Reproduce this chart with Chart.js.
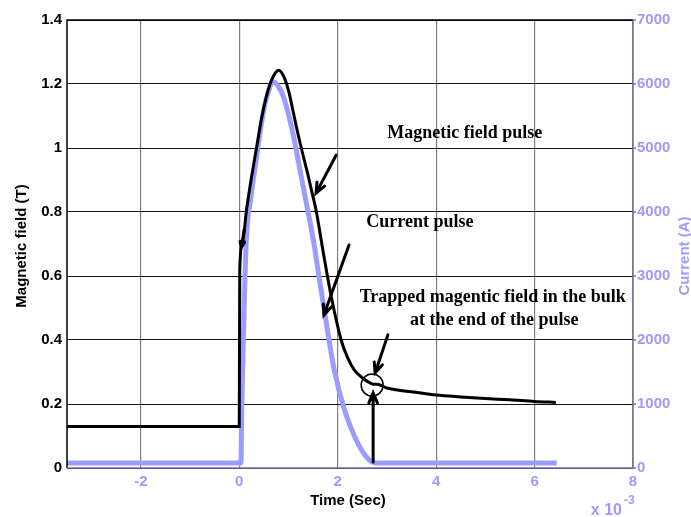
<!DOCTYPE html>
<html>
<head>
<meta charset="utf-8">
<script src="https://cdn.jsdelivr.net/npm/chart.js@4/dist/chart.umd.min.js"></script>
<style>
  html, body { margin: 0; padding: 0; background: #fff; }
  #wrap { width: 691px; height: 517px; position: relative; }
</style>
</head>
<body>
<div id="wrap"><canvas id="pulseChart"></canvas></div>
<script>
// Magnetic field (T) vs time (x 10^-3 s)
const fieldTime = [-3.5, 0, 0.01, 0.06, 0.15, 0.25, 0.35, 0.45, 0.55, 0.65, 0.74, 0.8, 0.9, 1.0, 1.1, 1.19, 1.3, 1.39, 1.48, 1.56, 1.7, 1.87, 2.07, 2.2, 2.34, 2.5, 2.61, 2.72, 2.8, 3.0, 3.5, 4.0, 4.5, 5.0, 5.5, 6.0, 6.43];
const fieldValues = [0.13, 0.13, 0.62, 0.70, 0.81, 0.91, 1.0, 1.09, 1.16, 1.21, 1.236, 1.243, 1.225, 1.18, 1.11, 1.046, 0.975, 0.92, 0.86, 0.806, 0.68, 0.535, 0.40, 0.345, 0.306, 0.282, 0.27, 0.262, 0.262, 0.25, 0.238, 0.228, 0.222, 0.217, 0.213, 0.208, 0.205];

// Current (A) vs time
const currentTime = [-3.5, 0, 0.035, 0.05, 0.08, 0.14, 0.24, 0.345, 0.43, 0.51, 0.6, 0.68, 0.8, 0.92, 1.09, 1.26, 1.43, 1.53, 1.6, 1.76, 1.93, 2.14, 2.41, 2.64, 2.75, 6.45];
const currentValues = [80, 80, 80, 900, 1900, 3500, 4250, 4810, 5280, 5645, 5900, 6036, 5960, 5750, 5230, 4550, 3875, 3450, 3090, 2310, 1530, 906, 386, 125, 80, 80];

const xTicks = [-2, 0, 2, 4, 6, 8];
const fieldTicks = [0, 0.2, 0.4, 0.6, 0.8, 1, 1.2, 1.4];
const currentTicks = [0, 1000, 2000, 3000, 4000, 5000, 6000, 7000];

const blue = '#9c9cff';
const axisBlue = '#7474a8';
const sans = '"Liberation Sans", Arial, sans-serif';
const serif = '"Liberation Serif", "Times New Roman", serif';

// annotation texts and arrows, placed in data units (x, left axis)
const notes = [
  { text: 'Magnetic field pulse', x: 4.58, y: 1.047 },
  { text: 'Current pulse', x: 3.67, y: 0.769 },
  { text: 'Trapped magentic field in the bulk', x: 5.15, y: 0.534 },
  { text: 'at the end of the pulse', x: 5.18, y: 0.4625 }
];
const arrows = [
  { from: [1.97, 0.978], to: [1.56, 0.859] },
  { from: [2.23, 0.697], to: [1.72, 0.478] },
  { from: [3.02, 0.416], to: [2.76, 0.297] },
  { from: [2.72, 0.019], to: [2.72, 0.235] },
  { from: [0.1, 0.745], to: [0.045, 0.69], head: 6 }
];
const marker = { x: 2.70, y: 0.259, r: 11 };

function zip(xs, ys) {
  return xs.map((x, i) => ({ x: x, y: ys[i] }));
}

const decorPlugin = {
  id: 'decor',
  afterDatasetsDraw(chart) {
    const ctx = chart.ctx;
    const xs = chart.scales.x, ys = chart.scales.yField;
    const a = chart.chartArea;
    ctx.save();

    // frame
    ctx.lineWidth = 1.5;
    ctx.strokeStyle = '#000';
    ctx.beginPath();
    ctx.moveTo(a.left, a.bottom);
    ctx.lineTo(a.left, a.top);
    ctx.lineTo(a.right, a.top);
    ctx.stroke();
    ctx.strokeStyle = axisBlue;
    ctx.beginPath();
    ctx.moveTo(a.left, a.bottom);
    ctx.lineTo(a.right, a.bottom);
    ctx.lineTo(a.right, a.top);
    ctx.stroke();
    // small outer ticks on the right axis
    currentTicks.forEach(v => {
      const py = chart.scales.yCurrent.getPixelForValue(v);
      ctx.beginPath();
      ctx.moveTo(a.right, py);
      ctx.lineTo(a.right + 3, py);
      ctx.stroke();
    });

    // arrows
    ctx.strokeStyle = '#000';
    ctx.lineCap = 'round';
    arrows.forEach(ar => {
      const x1 = xs.getPixelForValue(ar.from[0]), y1 = ys.getPixelForValue(ar.from[1]);
      const x2 = xs.getPixelForValue(ar.to[0]), y2 = ys.getPixelForValue(ar.to[1]);
      const ang = Math.atan2(y2 - y1, x2 - x1);
      const h = ar.head || 11;
      ctx.lineWidth = 3;
      ctx.beginPath();
      ctx.moveTo(x1, y1);
      ctx.lineTo(x2, y2);
      ctx.moveTo(x2 - h * Math.cos(ang - 0.4), y2 - h * Math.sin(ang - 0.4));
      ctx.lineTo(x2, y2);
      ctx.lineTo(x2 - h * Math.cos(ang + 0.4), y2 - h * Math.sin(ang + 0.4));
      ctx.stroke();
    });

    // circle around the trapped field point
    ctx.lineWidth = 1.5;
    ctx.beginPath();
    ctx.arc(xs.getPixelForValue(marker.x), ys.getPixelForValue(marker.y), marker.r, 0, Math.PI * 2);
    ctx.stroke();

    // notes
    ctx.fillStyle = '#000';
    ctx.font = 'bold 18px ' + serif;
    ctx.textAlign = 'center';
    ctx.textBaseline = 'middle';
    notes.forEach(n => {
      ctx.fillText(n.text, xs.getPixelForValue(n.x), ys.getPixelForValue(n.y));
    });

    // axis titles
    ctx.font = 'bold 15px ' + sans;
    ctx.fillText('Time (Sec)', (a.left + a.right) / 2 - 2, a.bottom + 33);
    ctx.save();
    ctx.translate(22, (a.top + a.bottom) / 2 + 2);
    ctx.rotate(-Math.PI / 2);
    ctx.fillText('Magnetic field (T)', 0, 0);
    ctx.restore();
    ctx.save();
    ctx.fillStyle = blue;
    ctx.translate(a.right + 52, (a.top + a.bottom) / 2 + 12);
    ctx.rotate(-Math.PI / 2);
    ctx.fillText('Current (A)', 0, 0);
    ctx.restore();

    // exponent label
    ctx.fillStyle = blue;
    ctx.font = 'bold 16px ' + sans;
    ctx.textAlign = 'right';
    ctx.fillText('x 10', a.right - 11, a.bottom + 43);
    ctx.font = 'bold 12px ' + sans;
    ctx.textAlign = 'left';
    ctx.fillText('-3', a.right - 9, a.bottom + 33);

    ctx.restore();
  }
};

new Chart(document.getElementById('pulseChart').getContext('2d'), {
  type: 'line',
  data: {
    datasets: [
      {
        label: 'Current',
        data: zip(currentTime, currentValues),
        yAxisID: 'yCurrent',
        borderColor: blue,
        borderWidth: 5,
        pointRadius: 0,
        cubicInterpolationMode: 'monotone',
        order: 2
      },
      {
        label: 'Magnetic field',
        data: zip(fieldTime, fieldValues),
        yAxisID: 'yField',
        borderColor: '#000',
        borderWidth: 3,
        pointRadius: 0,
        cubicInterpolationMode: 'monotone',
        order: 1
      }
    ]
  },
  options: {
    responsive: true,
    maintainAspectRatio: false,
    animation: false,
    layout: { padding: { top: 20, left: 0, right: 0, bottom: 0 } },
    plugins: { legend: { display: false }, tooltip: { enabled: false } },
    scales: {
      x: {
        type: 'linear',
        min: -3.5,
        max: 8,
        afterBuildTicks: s => { s.ticks = xTicks.map(v => ({ value: v })); },
        afterFit: s => { s.height = 49; },
        grid: { color: '#808080', lineWidth: 1.2, drawTicks: false },
        border: { display: false },
        ticks: { color: blue, font: { family: sans, size: 15, weight: 'bold' }, padding: 5, maxRotation: 0, callback: v => String(v) }
      },
      yField: {
        position: 'left',
        min: 0,
        max: 1.4,
        afterBuildTicks: s => { s.ticks = fieldTicks.map(v => ({ value: v })); },
        afterFit: s => { s.width = 67; },
        grid: { color: '#111', lineWidth: 1, drawTicks: false },
        border: { display: false },
        ticks: { color: '#000', font: { family: sans, size: 15, weight: 'bold' }, padding: 5, callback: v => String(Math.round(v * 10) / 10) }
      },
      yCurrent: {
        position: 'right',
        min: 0,
        max: 7000,
        afterBuildTicks: s => { s.ticks = currentTicks.map(v => ({ value: v })); },
        afterFit: s => { s.width = 58; },
        grid: { display: false, drawTicks: false },
        border: { display: false },
        ticks: { color: blue, font: { family: sans, size: 15, weight: 'bold' }, padding: 4, callback: v => String(v) }
      }
    }
  },
  plugins: [decorPlugin]
});
</script>
</body>
</html>
